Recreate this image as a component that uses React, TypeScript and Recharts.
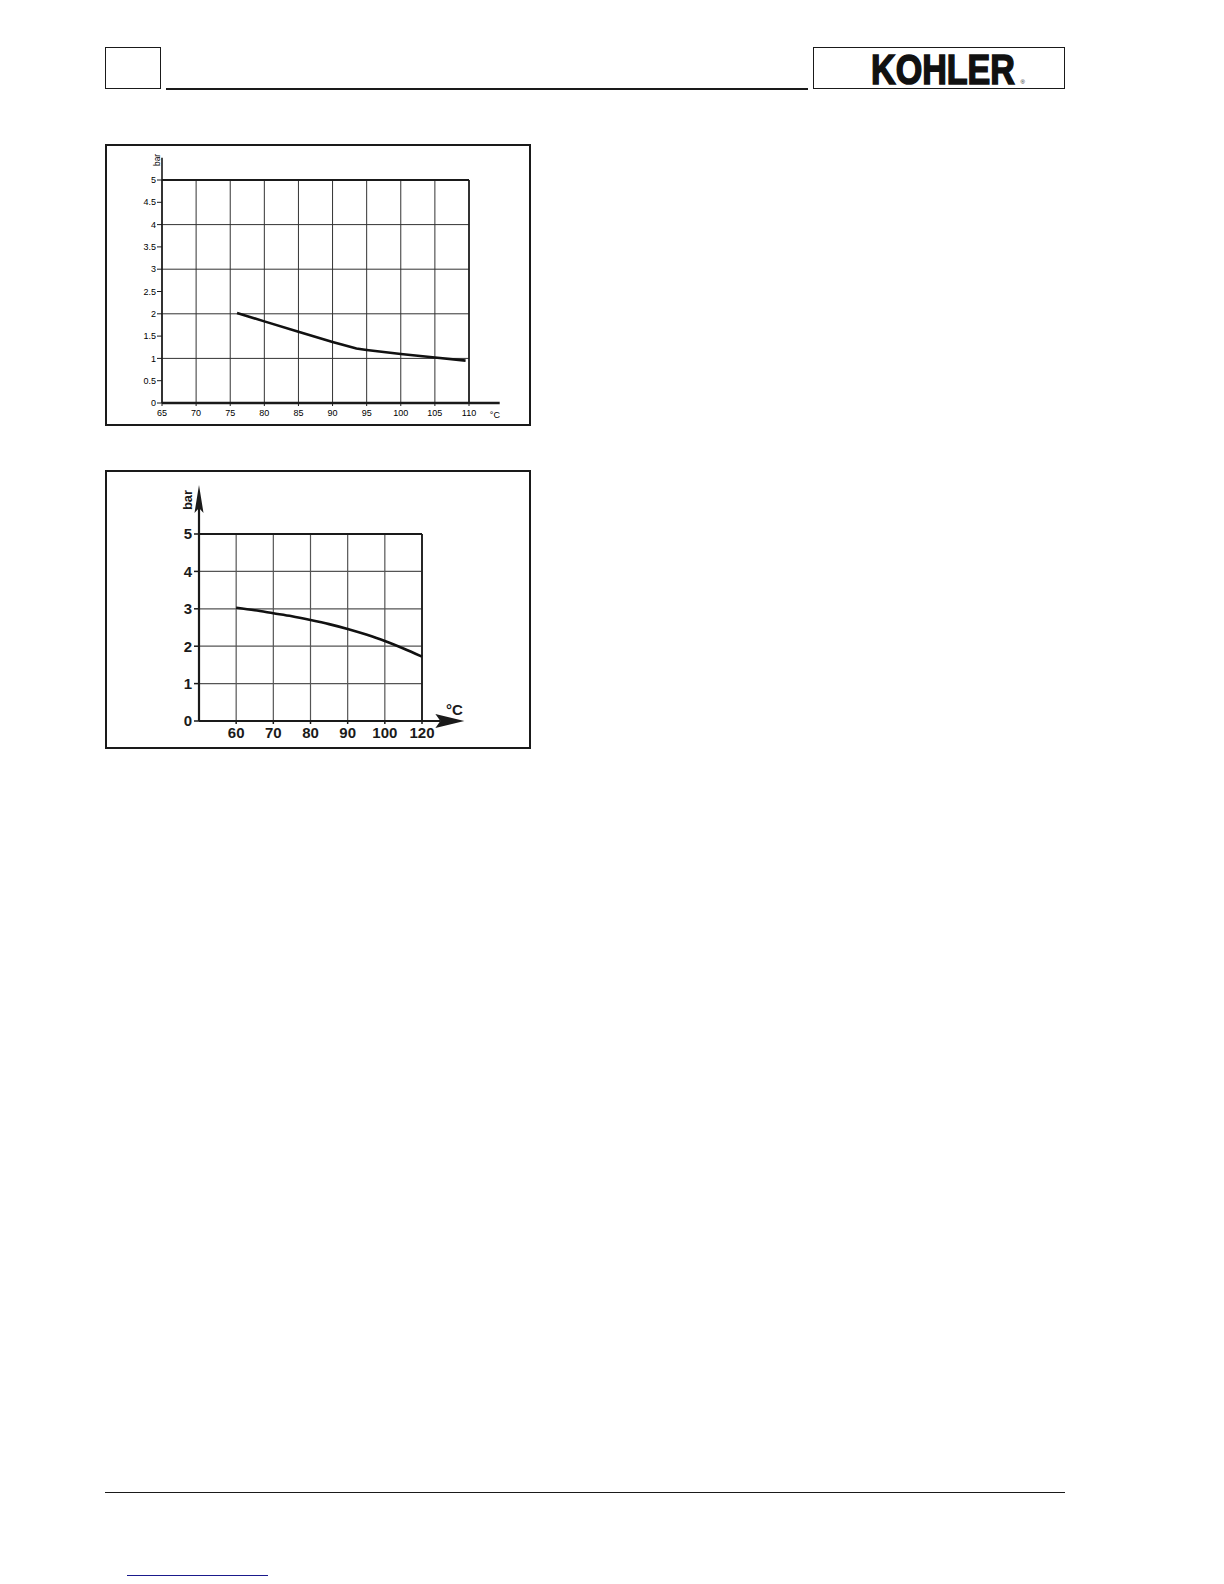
import React from 'react';
import { LineChart, Line, XAxis, YAxis, CartesianGrid, ReferenceLine, ReferenceDot } from 'recharts';

// ---- Chart 1 data (top) ----
const temp1 = [76, 80, 85, 90, 93.5, 95, 100, 105, 109.5];
const bar1 = [2.02, 1.83, 1.6, 1.37, 1.22, 1.19, 1.1, 1.02, 0.95];
const xTicks1 = [65, 70, 75, 80, 85, 90, 95, 100, 105, 110];
const yTicks1 = [0, 0.5, 1, 1.5, 2, 2.5, 3, 3.5, 4, 4.5, 5];

// ---- Chart 2 data (bottom) ----
const temp2 = [60, 65, 70, 75, 80, 85, 90, 95, 100, 105, 110];
const bar2 = [3.03, 2.96, 2.88, 2.8, 2.7, 2.59, 2.46, 2.31, 2.14, 1.94, 1.72];
const xTicks2 = [60, 70, 80, 90, 100, 110];
const xTickLabels2 = ['60', '70', '80', '90', '100', '120'];
const yTicks2 = [0, 1, 2, 3, 4, 5];

const data1 = temp1.map((t, i) => ({ t, v: bar1[i] }));
const data2 = temp2.map((t, i) => ({ t, v: bar2[i] }));

const FONT = '"Liberation Sans", Arial, sans-serif';
const INK = '#1a1a1a';

const makeArrow = (headLen: number, half: number) => (p: any) => {
  const { x1, y1, x2, y2 } = p;
  const dx = x2 - x1;
  const dy = y2 - y1;
  const len = Math.hypot(dx, dy) || 1;
  const ux = dx / len;
  const uy = dy / len;
  const bx = x2 - ux * headLen;
  const by = y2 - uy * headLen;
  const px = -uy;
  const py = ux;
  const nx = bx + ux * 5;
  const ny = by + uy * 5;
  return (
    <g>
      <line x1={x1} y1={y1} x2={nx} y2={ny} stroke={INK} strokeWidth={2.2} />
      <polygon
        points={`${x2},${y2} ${bx + px * half},${by + py * half} ${nx},${ny} ${bx - px * half},${by - py * half}`}
        fill={INK}
      />
    </g>
  );
};

const Chart1 = () => (
  <LineChart
    width={426}
    height={282}
    data={data1}
    margin={{ top: 36, right: 62, bottom: 0, left: 0 }}
    style={{ position: 'absolute', left: 105, top: 144 }}
  >
    <CartesianGrid stroke="#333" strokeWidth={1} />
    <XAxis
      dataKey="t"
      type="number"
      domain={[65, 110]}
      ticks={xTicks1}
      height={23}
      axisLine={false}
      tickLine={{ stroke: INK }}
      tickSize={3}
      tickMargin={4}
      tick={{ fontSize: 9, fill: '#000', fontFamily: FONT }}
    />
    <YAxis
      type="number"
      domain={[0, 5]}
      ticks={yTicks1}
      width={57}
      axisLine={false}
      tickLine={{ stroke: INK }}
      tickSize={5}
      tickMargin={1}
      tick={{ fontSize: 9, fill: '#000', fontFamily: FONT }}
    />
    <ReferenceLine y={5} stroke={INK} strokeWidth={2} />
    <ReferenceLine x={110} stroke={INK} strokeWidth={1.6} />
    <ReferenceLine segment={[{ x: 65, y: 0 }, { x: 114.5, y: 0 }]} stroke={INK} strokeWidth={2.4} ifOverflow="visible" />
    <ReferenceLine segment={[{ x: 65, y: 0 }, { x: 65, y: 5.5 }]} stroke={INK} strokeWidth={1.6} ifOverflow="visible" />
    <ReferenceDot
      x={64.27}
      y={5.45}
      r={1}
      fill="none"
      stroke="none"
      ifOverflow="visible"
      label={{ value: 'bar', position: 'center', angle: -90, fontSize: 8.5, fill: '#000', fontFamily: FONT }}
    />
    <ReferenceDot
      x={113.8}
      y={-0.26}
      r={1}
      fill="none"
      stroke="none"
      ifOverflow="visible"
      label={{ value: '°C', position: 'center', fontSize: 9, fill: '#000', fontFamily: FONT }}
    />
    <Line
      dataKey="v"
      type="linear"
      stroke="#111"
      strokeWidth={2.6}
      dot={false}
      isAnimationActive={false}
    />
  </LineChart>
);

const Chart2 = () => (
  <LineChart
    width={426}
    height={279}
    data={data2}
    margin={{ top: 64, right: 109, bottom: 0, left: 0 }}
    style={{ position: 'absolute', left: 105, top: 470 }}
  >
    <CartesianGrid stroke="#555" strokeWidth={1.2} />
    <XAxis
      dataKey="t"
      type="number"
      domain={[50, 110]}
      ticks={xTicks2}
      height={28}
      axisLine={false}
      tickLine={{ stroke: INK, strokeWidth: 1.5 }}
      tickSize={3}
      tickMargin={3}
      tickFormatter={(v: number) => xTickLabels2[xTicks2.indexOf(v)]}
      tick={{ fontSize: 15, fontWeight: 'bold', fill: INK, fontFamily: FONT }}
    />
    <YAxis
      type="number"
      domain={[0, 5]}
      ticks={yTicks2}
      width={94}
      axisLine={false}
      tickLine={{ stroke: INK, strokeWidth: 1.5 }}
      tickSize={5}
      tickMargin={2}
      tick={{ fontSize: 15, fontWeight: 'bold', fill: INK, fontFamily: FONT }}
    />
    <ReferenceLine y={5} stroke={INK} strokeWidth={1.8} />
    <ReferenceLine x={110} stroke={INK} strokeWidth={1.8} />
    <ReferenceLine
      segment={[{ x: 50, y: 0 }, { x: 121.4, y: 0 }]}
      ifOverflow="visible"
      shape={makeArrow(29, 7)}
    />
    <ReferenceLine
      segment={[{ x: 50, y: 0 }, { x: 50, y: 6.31 }]}
      ifOverflow="visible"
      shape={makeArrow(28, 4.5)}
    />
    <ReferenceDot
      x={46.9}
      y={5.91}
      r={1}
      fill="none"
      stroke="none"
      ifOverflow="visible"
      label={{ value: 'bar', position: 'center', angle: -90, fontSize: 13, fontWeight: 'bold', fill: INK, fontFamily: FONT }}
    />
    <ReferenceDot
      x={118.7}
      y={0.29}
      r={1}
      fill="none"
      stroke="none"
      ifOverflow="visible"
      label={{ value: '°C', position: 'center', fontSize: 15, fontWeight: 'bold', fill: INK, fontFamily: FONT }}
    />
    <Line
      dataKey="v"
      type="monotone"
      stroke="#111"
      strokeWidth={2.6}
      dot={false}
      isAnimationActive={false}
    />
  </LineChart>
);

export default function App() {
  const box = (l: number, t: number, w: number, h: number, bw: number) => ({
    position: 'absolute' as const,
    left: l,
    top: t,
    width: w,
    height: h,
    border: `${bw}px solid ${INK}`,
    boxSizing: 'border-box' as const,
  });
  return (
    <div style={{ position: 'absolute', left: 0, top: 0, width: 1224, height: 1584, background: '#fff', overflow: 'hidden' }}>
      {/* header */}
      <div style={box(105, 47, 56, 42, 1.5)} />
      <div style={{ position: 'absolute', left: 166, top: 88, width: 642, height: 1.5, background: INK }} />
      <div style={box(813, 47, 252, 42, 1.5)} />
      <svg width={252} height={42} style={{ position: 'absolute', left: 813, top: 47, overflow: 'visible' }}>
        <text
          x={58}
          y={37}
          fontFamily='"Liberation Sans", Arial, sans-serif'
          fontWeight="bold"
          fontSize={43}
          textLength={144}
          lengthAdjust="spacingAndGlyphs"
          fill="#111"
          stroke="#111"
          strokeWidth={1.6}
        >
          KOHLER
        </text>
        <text x={207.5} y={37} fontFamily={FONT} fontSize={6} fill="#111">®</text>
      </svg>

      {/* chart boxes */}
      <div style={box(105, 144, 426, 282, 2)} />
      <div style={box(105, 470, 426, 279, 2)} />
      <Chart1 />
      <Chart2 />

      {/* footer */}
      <div style={{ position: 'absolute', left: 105, top: 1491.5, width: 960, height: 1.5, background: INK }} />
      <div style={{ position: 'absolute', left: 127, top: 1574.5, width: 141, height: 1.5, background: '#1a1a8c' }} />
    </div>
  );
}
